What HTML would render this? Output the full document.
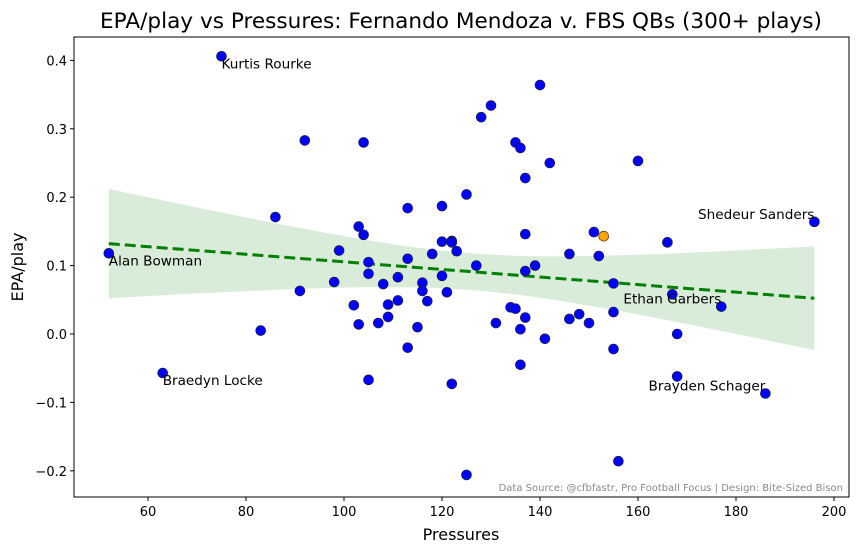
<!DOCTYPE html>
<html><head><meta charset="utf-8"><style>
body{margin:0;background:#fff;}
svg text{font-family:"DejaVu Sans","Liberation Sans",sans-serif;}
</style></head><body>
<svg id="chart" width="859" height="552" xmlns="http://www.w3.org/2000/svg">
<rect width="859" height="552" fill="#fff"/>
<text x="461" y="28" font-size="21.6" text-anchor="middle">EPA/play vs Pressures: Fernando Mendoza v. FBS QBs (300+ plays)</text>
<g id="band"></g><g id="line"></g><g id="pts"></g><g id="labels"></g><g id="axes"></g>
<text x="461" y="540" font-size="16" text-anchor="middle">Pressures</text>
<text transform="translate(23,267) rotate(-90)" font-size="16" text-anchor="middle">EPA/play</text>
<text x="843" y="491" font-size="10" fill="#888" text-anchor="end">Data Source: @cfbfastr, Pro Football Focus | Design: Bite-Sized Bison</text>
</svg>
<script>
const pressures=[52,75,92,104,86,103,104,113,120,99,105,105,98,91,102,103,107,108,109,109,111,111,113,113,115,116,116,117,120,120,118,121,122,122,123,105,122,63,83,125,125,128,130,135,136,142,140,137,137,127,139,137,134,135,137,131,136,141,136,146,146,148,150,152,151,155,155,155,156,160,166,167,168,168,177,186,196];
const epa=[0.118,0.406,0.283,0.280,0.171,0.157,0.145,0.184,0.187,0.122,0.105,0.088,0.076,0.063,0.042,0.014,0.016,0.073,0.043,0.025,0.083,0.049,0.110,-0.020,0.010,0.075,0.063,0.048,0.135,0.085,0.117,0.061,0.136,0.134,0.121,-0.067,-0.073,-0.057,0.005,0.204,-0.206,0.317,0.334,0.280,0.272,0.250,0.364,0.228,0.146,0.100,0.100,0.092,0.039,0.037,0.024,0.016,0.007,-0.007,-0.045,0.117,0.022,0.029,0.016,0.114,0.149,0.074,0.032,-0.022,-0.186,0.253,0.134,0.058,0.000,-0.062,0.040,-0.087,0.164];
const highlight={x:153,y:0.143};
const labelNames=["Kurtis Rourke","Alan Bowman","Braedyn Locke","Shedeur Sanders","Ethan Garbers","Brayden Schager"];
const labelX=[75,52,63,196,177,186];
const labelY=[0.406,0.118,-0.057,0.164,0.040,-0.087];
const labelSide=["left","left","left","right","right","right"];
const xTicks=[60,80,100,120,140,160,180,200];
const yTicks=[-0.2,-0.1,0.0,0.1,0.2,0.3,0.4];
const yTickLabels=["\u22120.2","\u22120.1","0.0","0.1","0.2","0.3","0.4"];

const L=74,R=849,T=37,B=497;
const X=v=>148+(v-60)*4.9;
const Y=v=>334-v*684;
const NS="http://www.w3.org/2000/svg";
function mk(tag,attrs,parent){const e=document.createElementNS(NS,tag);for(const k in attrs)e.setAttribute(k,attrs[k]);document.getElementById(parent).appendChild(e);return e;}

const n=pressures.length;
const xm=pressures.reduce((a,b)=>a+b,0)/n, ym=epa.reduce((a,b)=>a+b,0)/n;
let sxx=0,sxy=0;for(let i=0;i<n;i++){sxx+=(pressures[i]-xm)**2;sxy+=(pressures[i]-xm)*(epa[i]-ym);}
const slope=sxy/sxx, icpt=ym-slope*xm;
let sse=0;for(let i=0;i<n;i++)sse+=(epa[i]-icpt-slope*pressures[i])**2;
const s=Math.sqrt(sse/(n-2));
const xmin=Math.min(...pressures), xmax=Math.max(...pressures);
let up=[],lo=[];
for(let k=0;k<=50;k++){const xv=xmin+(xmax-xmin)*k/50;const yv=icpt+slope*xv;const se=2.05*s*Math.sqrt(1/n+(xv-xm)**2/sxx);up.push(X(xv)+","+Y(yv+se));lo.unshift(X(xv)+","+Y(yv-se));}
let band=mk('polygon',{points:up.concat(lo).join(' '),fill:'#d9ecd9'},'band');


let ln=mk('line',{x1:X(xmin),y1:Y(icpt+slope*xmin),x2:X(xmax),y2:Y(icpt+slope*xmax),stroke:'#008000','stroke-width':3,'stroke-dasharray':'11,5'},'line');



for(let i=0;i<n;i++){
  const c=mk('circle',{cx:X(pressures[i]),cy:Y(epa[i]),r:5,fill:'#0000ff',stroke:'#222','stroke-width':0.6},'pts');
  
  
}
const h=mk('circle',{cx:X(highlight.x),cy:Y(highlight.y),r:5,fill:'#ffa500',stroke:'#222','stroke-width':0.6},'pts');



for(let i=0;i<labelNames.length;i++){
  const px=X(labelX[i]),py=Y(labelY[i]);
  const t=mk('text',{x:px,y:labelSide[i]=="left"?py+12:py-3,'font-size':13.6,'text-anchor':labelSide[i]=="left"?"start":"end"},'labels');
  t.textContent=labelNames[i];
  
  
}

const fr=mk('rect',{x:L,y:T,width:R-L,height:B-T,fill:'none',stroke:'#000','stroke-width':1},'axes');


xTicks.forEach(v=>{
  const tk=mk('line',{x1:X(v),x2:X(v),y1:B,y2:B+4,stroke:'#000'},'axes');
  
  
  const t=mk('text',{x:X(v),y:B+19,'font-size':13,'text-anchor':'middle'},'axes');
  t.textContent=v;
  
  
});
yTicks.forEach((v,i)=>{
  const tk=mk('line',{x1:L-4,x2:L,y1:Y(v),y2:Y(v),stroke:'#000'},'axes');
  
  
  const t=mk('text',{x:L-7,y:Y(v)+5,'font-size':13,'text-anchor':'end'},'axes');
  t.textContent=yTickLabels[i];
  
  
});
</script>
</body></html>
